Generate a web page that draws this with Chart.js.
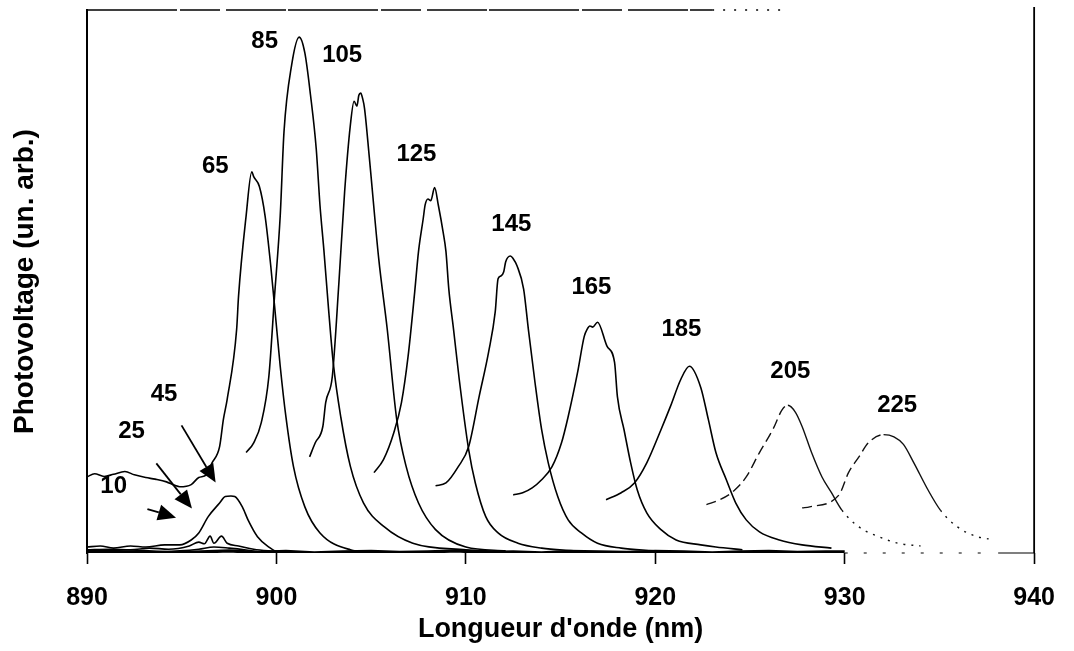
<!DOCTYPE html>
<html>
<head>
<meta charset="utf-8">
<script src="https://cdn.jsdelivr.net/npm/chart.js@4.4.1/dist/chart.umd.min.js"></script>
<style>
  html, body { margin: 0; padding: 0; background: #fff; }
  #wrap { width: 1074px; height: 651px; }
</style>
</head>
<body>
<div id="wrap"><canvas id="chart" width="1074" height="651"></canvas></div>
<script>
// Spectres de photovoltage : longueur d'onde (nm) / signal (un. arb.)
const wl10 = [890.0, 891.7, 893.3, 894.9, 895.9, 896.7, 897.5, 898.3, 899.0];
const pv10 = [0.4, 0.4, 0.2, 0.4, 0.7, 1.1, 0.9, 0.6, 0.2];

const wl25 = [890.0, 891.2, 892.3, 893.3, 894.3, 895.4, 895.9, 896.2, 896.5, 896.7, 897.1, 897.4, 898.0, 898.8, 899.6, 900.6];
const pv25 = [0.6, 0.7, 0.6, 0.9, 0.7, 1.3, 2.0, 1.7, 3.1, 1.8, 3.1, 1.8, 1.3, 0.7, 0.4, 0.2];

const wl45 = [890.0, 890.7, 891.4, 892.3, 893.1, 894.1, 894.9, 895.5, 895.9, 896.4, 897.0, 897.3, 897.6, 897.8, 898.2, 898.5, 899.0, 899.6, 900.1, 901.1];
const pv45 = [1.1, 1.3, 0.9, 1.3, 1.1, 1.5, 1.5, 2.4, 3.7, 6.7, 9.2, 10.4, 10.5, 10.4, 8.5, 6.1, 3.0, 1.1, 0.2, 0.2];

const wl65 = [890.0, 890.4, 890.9, 891.4, 892.0, 892.5, 893.1, 893.6, 894.2, 894.6, 894.9, 895.5, 895.9, 896.3, 896.6, 897.0, 897.2, 897.4, 897.9, 898.0, 898.4, 898.7, 898.8, 899.1, 899.4, 899.7, 900.0, 900.2, 900.5, 900.9, 901.5, 902.3, 903.9, 905.0];
const pv65 = [14.0, 14.6, 14.1, 14.5, 15.0, 14.4, 13.9, 13.6, 13.1, 12.5, 12.2, 12.6, 13.9, 14.4, 16.6, 19.6, 24.6, 28.3, 41.2, 47.3, 62.1, 70.2, 69.3, 67.5, 62.1, 52.9, 41.8, 34.4, 25.1, 15.9, 8.5, 3.7, 0.6, 0.2];

const wl85 = [898.4, 898.8, 899.2, 899.6, 899.9, 900.2, 900.4, 900.8, 901.2, 901.5, 901.8, 902.1, 902.3, 902.5, 902.75, 903.0, 903.4, 903.9, 904.6, 905.7, 907.2, 910.0, 911.6];
const pv85 = [18.5, 20.3, 24.0, 32.5, 47.3, 62.1, 77.6, 89.8, 95.0, 92.1, 84.3, 74.5, 64.0, 56.0, 45.0, 35.0, 25.0, 16.0, 9.2, 4.8, 1.8, 0.6, 0.3];

const wl105 = [901.75, 902.05, 902.45, 902.6, 902.95, 903.3, 903.6, 903.9, 904.1, 904.25, 904.35, 904.45, 904.55, 904.65, 904.9, 905.4, 905.85, 906.35, 906.85, 907.5, 908.4, 910.0, 912.1];
const pv105 = [17.7, 20.3, 23.3, 27.7, 32.5, 49.9, 66.5, 78.7, 83.2, 82.3, 84.3, 84.7, 83.7, 81.9, 73.0, 54.2, 41.2, 24.6, 15.9, 9.2, 4.3, 1.1, 0.4];

const wl125 = [905.15, 905.65, 906.2, 906.6, 906.95, 907.3, 907.5, 907.75, 907.85, 908.0, 908.15, 908.35, 908.55, 908.8, 908.95, 909.1, 909.35, 909.65, 910.15, 910.5, 911.05, 911.7, 912.75, 914.0, 915.7];
const pv125 = [14.8, 17.2, 22.2, 27.7, 36.2, 48.1, 55.5, 61.6, 64.1, 65.2, 64.9, 67.3, 64.0, 59.1, 55.5, 48.6, 41.2, 32.0, 19.0, 12.9, 6.7, 3.7, 1.8, 0.9, 0.4];

const wl145 = [908.4, 908.95, 909.6, 910.15, 910.7, 911.2, 911.55, 911.7, 911.85, 912.0, 912.1, 912.35, 912.5, 912.7, 913.05, 913.3, 913.65, 914.0, 914.35, 914.85, 915.4, 916.1, 916.95, 918.2, 919.9];
const pv145 = [12.4, 12.9, 15.9, 19.6, 28.8, 37.0, 44.4, 50.5, 51.0, 51.8, 53.6, 54.7, 54.2, 52.9, 48.6, 41.2, 31.4, 22.7, 16.6, 10.4, 6.1, 3.7, 1.8, 0.9, 0.4];

const wl165 = [912.5, 913.0, 913.5, 914.0, 914.55, 915.05, 915.4, 915.9, 916.25, 916.4, 916.55, 916.7, 916.95, 917.45, 917.85, 918.0, 918.35, 918.7, 919.05, 919.55, 920.3, 921.1, 922.4, 923.2, 924.6];
const pv165 = [10.7, 11.1, 12.0, 13.5, 15.9, 20.3, 25.1, 33.3, 39.9, 41.2, 41.8, 41.6, 42.5, 38.1, 35.1, 28.8, 22.7, 16.6, 11.6, 7.4, 4.3, 2.4, 1.5, 1.1, 0.6];

const wl185 = [917.4, 918.2, 918.9, 919.55, 920.3, 920.8, 921.35, 921.8, 922.4, 922.8, 923.2, 923.75, 924.25, 924.8, 925.5, 926.55, 927.75, 929.3];
const pv185 = [9.8, 11.1, 12.9, 16.6, 22.7, 27.0, 32.0, 34.4, 30.5, 24.6, 18.5, 13.5, 9.2, 6.1, 3.9, 2.4, 1.5, 0.9];

const wl205 = [922.7, 923.4, 924.1, 924.8, 925.5, 926.2, 926.7, 927.0, 927.4, 927.75, 928.25, 928.8, 929.3, 929.85, 930.75, 931.8, 932.8, 934.0];
const pv205 = [8.9, 9.8, 11.3, 14.0, 18.5, 22.7, 26.4, 27.2, 25.9, 23.3, 18.5, 14.0, 11.1, 7.9, 4.8, 3.0, 1.8, 1.3];

const wl225 = [927.75, 928.15, 929.7, 930.2, 930.75, 931.25, 932.05, 932.6, 933.1, 933.65, 934.4, 935.05, 935.95, 937.0, 937.6];
const pv225 = [8.3, 8.5, 10.7, 14.8, 17.7, 20.3, 21.8, 21.4, 20.0, 16.6, 11.6, 7.9, 4.8, 3.0, 2.6];

// ligne de base commune (bruit)
const wlBase = [890, 891.5, 893, 894.5, 896, 897.5, 899, 900.5, 902, 903.5, 905, 906.5, 908, 909.5, 911, 912.5, 914, 915.5, 917, 918.5, 920, 921.5, 923, 924.5, 926, 927.5, 929, 930];
const pvBase = [0.2, 0.1, 0.3, 0.0, 0.2, 0.4, 0.1, 0.3, 0.0, 0.2, 0.3, 0.1, 0.2, 0.4, 0.1, 0.2, 0.0, 0.3, 0.2, 0.1, 0.3, 0.2, 0.0, 0.2, 0.3, 0.1, 0.2, 0.2];

// étiquettes des courbes
const labelText = ['10', '25', '45', '65', '85', '105', '125', '145', '165', '185', '205', '225'];
const labelX = [891.41, 892.35, 894.07, 896.77, 899.38, 903.47, 907.39, 912.4, 916.63, 921.38, 927.13, 932.77];
const labelY = [12.2, 22.4, 29.2, 71.2, 94.3, 91.7, 73.4, 60.6, 49.0, 41.2, 33.5, 27.2];

// flèches pour les petits signaux (10, 25, 45)
const arrowFromX = [893.19, 893.66, 894.99];
const arrowFromY = [8.1, 16.5, 23.5];
const arrowToX = [894.7, 895.54, 896.79];
const arrowToY = [6.5, 8.2, 13.0];

const xTicks = [890, 900, 910, 920, 930, 940];

const FONT = '"Liberation Sans", Arial, sans-serif';

function toPoints(wl, pv) {
    return wl.map((w, i) => ({ x: w, y: pv[i] }));
}

// dashed rising side for the faint scanned curves
function faintSegments(pv) {
    const peak = pv.indexOf(Math.max(...pv));
    return {
        borderDash: ctx => {
            if (ctx.p1DataIndex <= peak) return [10, 5];
            if (pv[ctx.p1DataIndex] < 5) return [2, 6];
            return undefined;
        }
    };
}

const curves = [
    [wl10, pv10], [wl25, pv25], [wl45, pv45], [wl65, pv65], [wl85, pv85], [wl105, pv105],
    [wl125, pv125], [wl145, pv145], [wl165, pv165], [wl185, pv185]
];

const datasets = curves.map(([wl, pv]) => ({
    data: toPoints(wl, pv),
    borderColor: '#000',
    borderWidth: 1.6,
    pointRadius: 0,
    cubicInterpolationMode: 'monotone'
}));
datasets.push({
    data: toPoints(wl205, pv205),
    borderColor: '#111',
    borderWidth: 1.4,
    pointRadius: 0,
    cubicInterpolationMode: 'monotone',
    segment: faintSegments(pv205)
});
datasets.push({
    data: toPoints(wl225, pv225),
    borderColor: '#111',
    borderWidth: 1.4,
    pointRadius: 0,
    cubicInterpolationMode: 'monotone',
    segment: faintSegments(pv225)
});
datasets.push({
    data: toPoints(wlBase, pvBase),
    borderColor: '#000',
    borderWidth: 3.4,
    pointRadius: 0,
    tension: 0
});

// cadre : bord droit, bord haut effacé, axe bas peu visible après 930 nm
const framePlugin = {
    id: 'frame',
    beforeDatasetsDraw(chart) {
        const { ctx, chartArea: a, scales: { x } } = chart;
        const w = a.right - a.left;
        ctx.save();
        ctx.strokeStyle = '#000';
        ctx.lineWidth = 1.8;
        ctx.beginPath();
        ctx.moveTo(a.right, a.top - 3);
        ctx.lineTo(a.right, a.bottom);
        ctx.stroke();

        ctx.lineWidth = 1.4;
        ctx.setLineDash([90, 3, 40, 6, 60, 2]);
        ctx.beginPath();
        ctx.moveTo(a.left, a.top);
        ctx.lineTo(a.left + w * 0.66, a.top);
        ctx.stroke();
        ctx.setLineDash([2, 9]);
        ctx.beginPath();
        ctx.moveTo(a.left + w * 0.66, a.top);
        ctx.lineTo(a.left + w * 0.74, a.top);
        ctx.stroke();

        ctx.lineWidth = 1.2;
        ctx.setLineDash([3, 16]);
        ctx.beginPath();
        ctx.moveTo(x.getPixelForValue(930), a.bottom);
        ctx.lineTo(x.getPixelForValue(938), a.bottom);
        ctx.stroke();
        ctx.setLineDash([]);
        ctx.beginPath();
        ctx.moveTo(x.getPixelForValue(938.1), a.bottom);
        ctx.lineTo(a.right, a.bottom);
        ctx.stroke();
        ctx.restore();
    }
};

const notesPlugin = {
    id: 'notes',
    afterDatasetsDraw(chart) {
        const { ctx, scales: { x, y } } = chart;
        ctx.save();
        ctx.fillStyle = '#000';
        ctx.strokeStyle = '#000';
        ctx.font = 'bold 24px ' + FONT;
        ctx.textAlign = 'center';
        ctx.textBaseline = 'middle';
        labelText.forEach((t, i) => {
            ctx.fillText(t, x.getPixelForValue(labelX[i]), y.getPixelForValue(labelY[i]));
        });

        ctx.lineWidth = 1.8;
        arrowFromX.forEach((fx, i) => {
            const x0 = x.getPixelForValue(fx), y0 = y.getPixelForValue(arrowFromY[i]);
            const x1 = x.getPixelForValue(arrowToX[i]), y1 = y.getPixelForValue(arrowToY[i]);
            const ang = Math.atan2(y1 - y0, x1 - x0);
            const len = 18, half = 8;
            const bx = x1 - len * Math.cos(ang), by = y1 - len * Math.sin(ang);
            ctx.beginPath();
            ctx.moveTo(x0, y0);
            ctx.lineTo(bx, by);
            ctx.stroke();
            ctx.beginPath();
            ctx.moveTo(x1, y1);
            ctx.lineTo(bx + half * Math.sin(ang), by - half * Math.cos(ang));
            ctx.lineTo(bx - half * Math.sin(ang), by + half * Math.cos(ang));
            ctx.closePath();
            ctx.fill();
        });
        ctx.restore();
    }
};

new Chart(document.getElementById('chart'), {
    type: 'line',
    data: { datasets },
    options: {
        responsive: false,
        animation: false,
        layout: { padding: { top: 10, right: 29, left: 0, bottom: 0 } },
        plugins: {
            legend: { display: false },
            tooltip: { enabled: false }
        },
        scales: {
            x: {
                type: 'linear',
                min: 890,
                max: 940,
                afterBuildTicks: scale => {
                    scale.ticks = xTicks.map(v => ({ value: v }));
                },
                afterFit: scale => { scale.height = 98; },
                ticks: {
                    color: '#000',
                    padding: 19,
                    maxRotation: 0,
                    font: { family: FONT, size: 25, weight: 'bold' },
                    callback: v => String(v)
                },
                grid: {
                    drawOnChartArea: false,
                    drawTicks: true,
                    tickLength: 11,
                    tickWidth: 1.6,
                    tickColor: '#000'
                },
                border: { display: false },
                title: {
                    display: true,
                    text: "Longueur d'onde (nm)",
                    color: '#000',
                    font: { family: FONT, size: 27, weight: 'bold' },
                    padding: { top: 0, bottom: 5 }
                }
            },
            y: {
                min: 0,
                max: 100,
                afterFit: scale => { scale.width = 87; },
                ticks: { display: false },
                grid: { display: false },
                border: { display: true, color: '#000', width: 2 },
                title: {
                    display: true,
                    text: 'Photovoltage (un. arb.)',
                    color: '#000',
                    font: { family: FONT, size: 28, weight: 'bold' },
                    padding: { top: 8, bottom: 0 }
                }
            }
        }
    },
    plugins: [framePlugin, notesPlugin]
});
</script>
</body>
</html>
